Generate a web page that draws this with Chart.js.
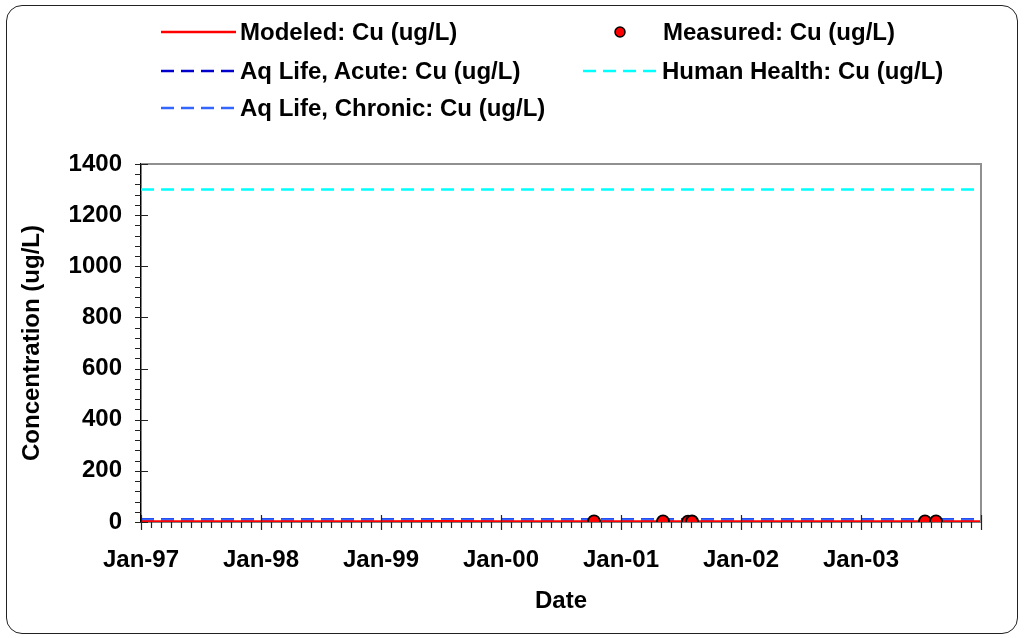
<!DOCTYPE html>
<html>
<head>
<meta charset="utf-8">
<script src="https://cdn.jsdelivr.net/npm/chart.js@4.4.1/dist/chart.umd.min.js"></script>
<style>
  html, body { margin: 0; padding: 0; background: #fff; }
  #wrap { position: relative; width: 1027px; height: 638px; overflow: hidden; }
  #frame { position: absolute; left: 6px; top: 5px; width: 1012px; height: 629px;
           border: 1.5px solid #222; border-radius: 16px; box-sizing: border-box; }
  #chartCanvas { position: absolute; left: 0; top: 0; }
  .leg { position: absolute; font: bold 24px "Liberation Sans", Arial, sans-serif;
         color: #000; white-space: nowrap; line-height: 26px; }
  .legSample { position: absolute; }
</style>
</head>
<body>
<div id="wrap">
  <div id="frame"></div>
  <canvas id="chartCanvas" width="1027" height="638"></canvas>
  <div id="legend"></div>
</div>
<script>
// months counted from Jan-97
var xTickLabels = ['Jan-97', 'Jan-98', 'Jan-99', 'Jan-00', 'Jan-01', 'Jan-02', 'Jan-03', ''];

var modeledMonths = [0, 6, 12, 18, 24, 30, 36, 42, 48, 54, 60, 66, 72, 78, 84];
var modeledValues = [1.2, 1.4, 1.1, 1.3, 1.2, 1.5, 1.3, 1.4, 1.2, 1.3, 1.4, 1.2, 1.3, 1.4, 1.2];

var measuredMonths = [45.3, 52.2, 54.7, 55.1, 78.4, 79.5];
var measuredValues = [2.6, 2.2, 1.8, 2.0, 2.4, 2.2];

var criteriaMonths = [0, 84];
var acuteValues = [10.5, 10.5];
var chronicValues = [9.5, 9.5];
var humanHealthValues = [1300, 1300];

function pts(xs, ys) {
    var out = [];
    for (var i in xs) {
        out.push({ x: xs[i], y: ys[i] });
    }
    return out;
}

var FONT = '"Liberation Sans", Arial, sans-serif';
Chart.defaults.font.family = FONT;
Chart.defaults.font.weight = 'bold';
Chart.defaults.color = '#000';

var datasets = [
    {
        label: 'Measured: Cu (ug/L)',
        data: pts(measuredMonths, measuredValues),
        showLine: false,
        pointRadius: 6,
        pointBackgroundColor: '#ff0000',
        pointBorderColor: '#000',
        pointBorderWidth: 1.8,
        borderColor: '#000',
        backgroundColor: '#ff0000'
    },
    {
        label: 'Modeled: Cu (ug/L)',
        data: pts(modeledMonths, modeledValues),
        borderColor: '#ff0000',
        borderWidth: 3,
        pointRadius: 0
    },
    {
        label: 'Aq Life, Chronic: Cu (ug/L)',
        data: pts(criteriaMonths, chronicValues),
        borderColor: '#3366ff',
        borderWidth: 2.5,
        borderDash: [13, 7],
        pointRadius: 0
    },
    {
        label: 'Aq Life, Acute: Cu (ug/L)',
        data: pts(criteriaMonths, acuteValues),
        borderColor: '#0000cc',
        borderWidth: 2.5,
        borderDash: [13, 7],
        pointRadius: 0
    },
    {
        label: 'Human Health: Cu (ug/L)',
        data: pts(criteriaMonths, humanHealthValues),
        borderColor: '#00ffff',
        borderWidth: 2.5,
        borderDash: [13, 7],
        pointRadius: 0
    }
];

// excel style tick marks + grey plot frame
var axisDecor = {
    id: 'axisDecor',
    afterDraw: function (chart) {
        var ctx = chart.ctx;
        var a = chart.chartArea;
        var xs = chart.scales.x, ys = chart.scales.y;
        ctx.save();
        ctx.strokeStyle = '#909090';
        ctx.lineWidth = 2;
        ctx.beginPath();
        ctx.moveTo(a.left, a.top);
        ctx.lineTo(a.right, a.top);
        ctx.lineTo(a.right, a.bottom);
        ctx.stroke();

        ctx.strokeStyle = '#222';
        ctx.lineWidth = 1.2;
        ctx.beginPath();
        for (var v = 0; v <= 1400; v += 40) {
            var py = Math.round(ys.getPixelForValue(v)) + 0.5;
            var major = v % 200 === 0;
            ctx.moveTo(a.left - 6, py);
            ctx.lineTo(major ? a.left + 7 : a.left, py);
        }
        for (var m = 0; m <= 84; m++) {
            var px = Math.round(xs.getPixelForValue(m)) + 0.5;
            if (m % 12 === 0) {
                ctx.moveTo(px, a.bottom - 7);
                ctx.lineTo(px, a.bottom + 8);
            } else {
                ctx.moveTo(px, a.bottom);
                ctx.lineTo(px, a.bottom + 6);
            }
        }
        ctx.stroke();
        ctx.restore();
    }
};

var chart = new Chart(document.getElementById('chartCanvas'), {
    type: 'line',
    data: { datasets: datasets },
    options: {
        responsive: false,
        animation: false,
        layout: { padding: { left: 8, top: 164, right: 46, bottom: 8 } },
        plugins: { legend: { display: false }, tooltip: { enabled: false } },
        scales: {
            x: {
                type: 'linear',
                min: 0,
                max: 84,
                afterFit: function (s) { s.height = 108; },
                grid: { display: false, drawTicks: false },
                border: { display: true, color: '#000', width: 1.5 },
                ticks: {
                    stepSize: 12,
                    padding: 24,
                    maxRotation: 0,
                    font: { size: 24, weight: 'bold' },
                    callback: function (v) { return xTickLabels[v / 12]; }
                },
                title: { display: true, text: 'Date', padding: { top: 0, bottom: 14 },
                         font: { size: 24, weight: 'bold' } }
            },
            y: {
                min: 0,
                max: 1400,
                afterFit: function (s) { s.width = 133; },
                grid: { display: false, drawTicks: false },
                border: { display: true, color: '#000', width: 1.5 },
                ticks: {
                    stepSize: 200,
                    padding: 19,
                    font: { size: 24, weight: 'bold' },
                    callback: function (v) { return String(v); }
                },
                title: { display: true, text: 'Concentration (ug/L)', padding: { top: 10, bottom: 0 },
                         font: { size: 24, weight: 'bold' } }
            }
        }
    },
    plugins: [axisDecor]
});

// html legend laid out like the excel one (2 columns, 3 rows)
var legendSlots = [
    { label: 'Modeled: Cu (ug/L)', sx: 161, sw: 75, tx: 240, cy: 32 },
    { label: 'Measured: Cu (ug/L)', sx: 614, sw: 12, tx: 663, cy: 32 },
    { label: 'Aq Life, Acute: Cu (ug/L)', sx: 161, sw: 73, tx: 240, cy: 71 },
    { label: 'Human Health: Cu (ug/L)', sx: 583, sw: 75, tx: 662, cy: 71 },
    { label: 'Aq Life, Chronic: Cu (ug/L)', sx: 161, sw: 73, tx: 240, cy: 108 }
];

var legendEl = document.getElementById('legend');
legendSlots.forEach(function (slot) {
    var ds = chart.data.datasets.find(function (d) { return d.label === slot.label; });
    var svg;
    if (ds.showLine === false) {
        svg = '<svg class="legSample" style="left:' + slot.sx + 'px;top:' + (slot.cy - 6) + 'px" width="14" height="14">' +
              '<circle cx="6" cy="6" r="5" fill="' + ds.pointBackgroundColor + '" stroke="#000" stroke-width="1.5"/></svg>';
    } else {
        var dash = ds.borderDash ? ' stroke-dasharray="' + ds.borderDash.join(',') + '"' : '';
        svg = '<svg class="legSample" style="left:' + slot.sx + 'px;top:' + (slot.cy - 3) + 'px" width="' + slot.sw + '" height="6">' +
              '<line x1="0" y1="3" x2="' + slot.sw + '" y2="3" stroke="' + ds.borderColor + '" stroke-width="' +
              Math.min(ds.borderWidth, 2.5) + '"' + dash + '/></svg>';
    }
    legendEl.insertAdjacentHTML('beforeend', svg +
        '<div class="leg" style="left:' + slot.tx + 'px;top:' + (slot.cy - 13) + 'px">' + ds.label + '</div>');
});
</script>
</body>
</html>
